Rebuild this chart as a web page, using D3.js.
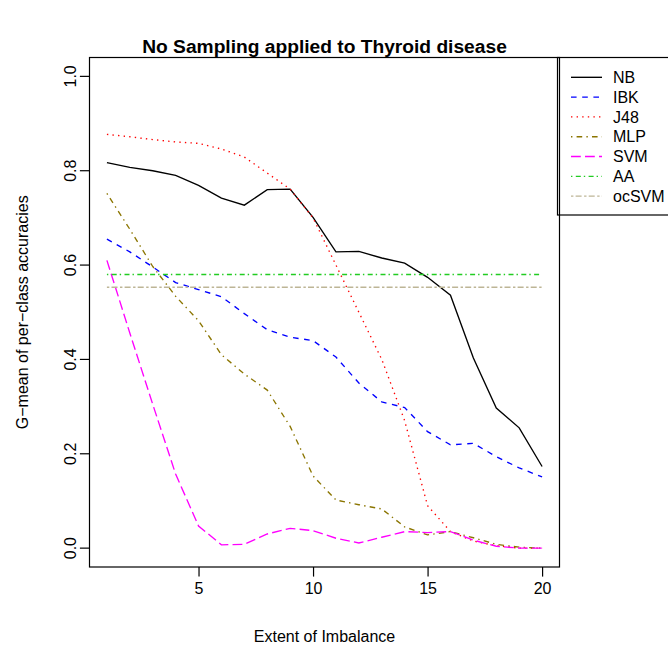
<!DOCTYPE html>
<html>
<head>
<meta charset="utf-8">
<script src="https://cdn.jsdelivr.net/npm/d3@7"></script>
<style>
  html, body { margin: 0; padding: 0; background: #fff; }
  svg { display: block; }
  text { font-family: "Liberation Sans", Arial, Helvetica, sans-serif; fill: #000; }
</style>
</head>
<body>
<svg id="chart" width="668" height="648"></svg>
<script>
// Extent of imbalance (x axis)
const imbalance = [1, 2, 3, 4, 5, 6, 7, 8, 9, 10, 11, 12, 13, 14, 15, 16, 17, 18, 19, 20];

// G-mean of per-class accuracies for each classifier
const nbValues  = [0.817, 0.807, 0.800, 0.790, 0.769, 0.742, 0.727, 0.760, 0.761, 0.701,
                   0.628, 0.629, 0.615, 0.604, 0.574, 0.536, 0.403, 0.297, 0.255, 0.173];
const ibkValues = [0.655, 0.628, 0.596, 0.563, 0.548, 0.533, 0.497, 0.463, 0.447, 0.440,
                   0.405, 0.350, 0.310, 0.298, 0.247, 0.219, 0.222, 0.194, 0.170, 0.151];
const j48Values = [0.877, 0.872, 0.866, 0.861, 0.858, 0.846, 0.829, 0.795, 0.761, 0.700,
                   0.600, 0.500, 0.400, 0.270, 0.090, 0.035, 0.015, 0.005, 0.000, 0.000];
const mlpValues = [0.752, 0.676, 0.597, 0.534, 0.482, 0.410, 0.369, 0.335, 0.258, 0.153,
                   0.102, 0.092, 0.083, 0.045, 0.028, 0.035, 0.022, 0.008, 0.002, 0.000];
const svmValues = [0.610, 0.456, 0.305, 0.157, 0.047, 0.007, 0.008, 0.030, 0.042, 0.037,
                   0.021, 0.011, 0.023, 0.035, 0.033, 0.035, 0.017, 0.004, 0.000, 0.000];
// Constant reference levels
const aaLevel    = 0.580;
const ocsvmLevel = 0.553;

const xTicks = [5, 10, 15, 20];
const yTicks = [0.0, 0.2, 0.4, 0.6, 0.8, 1.0];

const seriesNames = ["NB", "IBK", "J48", "MLP", "SVM", "AA", "ocSVM"];
const seriesColors = ["#000000", "#0000FF", "#FF0000", "#8B7500", "#FF00FF", "#22CC22", "#BDB596"];
const seriesDash = ["none", "5.6,5.6", "1.4,4.2", "1.4,4.2,5.6,4.2", "9.8,4.2", "1.4,3.4,5,3", "2.4,2.2,6,2.5"];

const series = [
  nbValues, ibkValues, j48Values, mlpValues, svmValues,
  imbalance.map(() => aaLevel),
  imbalance.map(() => ocsvmLevel)
];

const svg = d3.select("#chart");

// plot region
const plotLeft = 89.5, plotRight = 559.5, plotTop = 57.5, plotBottom = 567;

const x = d3.scaleLinear().domain([0.24, 20.76]).range([plotLeft, plotRight]);
const y = d3.scaleLinear().domain([-0.04, 1.04]).range([plotBottom, plotTop]);

// title
svg.append("text")
  .attr("x", (plotLeft + plotRight) / 2)
  .attr("y", 52.5)
  .attr("text-anchor", "middle")
  .style("font-size", "19.2px")
  .style("font-weight", "bold")
  .text("No Sampling applied to Thyroid disease");

// series lines
const line = d3.line()
  .x((d, i) => x(imbalance[i]))
  .y(d => y(d));

const linesG = svg.append("g");
series.forEach((vals, k) => {
  linesG.append("path")
    .datum(vals)
    .attr("d", line)
    .attr("fill", "none")
    .attr("stroke", seriesColors[k])
    .attr("stroke-width", 1.35)
    .attr("stroke-dasharray", seriesDash[k]);
});

// plot box
svg.append("rect")
  .attr("x", plotLeft).attr("y", plotTop)
  .attr("width", plotRight - plotLeft).attr("height", plotBottom - plotTop)
  .attr("fill", "none").attr("stroke", "#000").attr("stroke-width", 1.2);

// x axis
const xAxis = d3.axisBottom(x).tickValues(xTicks).tickFormat(d3.format("d"))
  .tickSize(9.6).tickPadding(6);
const gx = svg.append("g").attr("transform", `translate(0,${plotBottom})`).call(xAxis);
gx.select(".domain").remove();
gx.selectAll(".tick line").attr("stroke", "#000").attr("stroke-width", 1.2);
gx.selectAll(".tick text").style("font-size", "16px").attr("fill", "#000")
  .attr("font-family", "Liberation Sans, Arial, sans-serif");

svg.append("text")
  .attr("x", (plotLeft + plotRight) / 2)
  .attr("y", 641.5)
  .attr("text-anchor", "middle")
  .style("font-size", "16px")
  .text("Extent of Imbalance");

// y axis (labels parallel to the axis)
const gy = svg.append("g").attr("transform", `translate(${plotLeft},0)`);
yTicks.forEach(t => {
  gy.append("line")
    .attr("x1", 0).attr("x2", -9.6)
    .attr("y1", y(t)).attr("y2", y(t))
    .attr("stroke", "#000").attr("stroke-width", 1.2);
  gy.append("text")
    .attr("transform", `translate(${-13.5},${y(t)}) rotate(-90)`)
    .attr("text-anchor", "middle")
    .style("font-size", "16px")
    .text(d3.format(".1f")(t));
});

svg.append("text")
  .attr("transform", `translate(28,${(plotTop + plotBottom) / 2}) rotate(-90)`)
  .attr("text-anchor", "middle")
  .style("font-size", "16px")
  .text("G\u2212mean of per\u2212class accuracies");

// legend
const legendG = svg.append("g");
legendG.append("rect")
  .attr("x", 557.5).attr("y", plotTop)
  .attr("width", 140).attr("height", 215 - plotTop)
  .attr("fill", "none").attr("stroke", "#000").attr("stroke-width", 1.2);

seriesNames.forEach((name, k) => {
  const ry = 77.3 + k * 19.8;
  legendG.append("line")
    .attr("x1", 571).attr("x2", 602)
    .attr("y1", ry).attr("y2", ry)
    .attr("stroke", seriesColors[k])
    .attr("stroke-width", 1.35)
    .attr("stroke-dasharray", seriesDash[k]);
  legendG.append("text")
    .attr("x", 613).attr("y", ry)
    .attr("dy", "0.36em")
    .style("font-size", "16px")
    .text(name);
});
</script>
</body>
</html>
